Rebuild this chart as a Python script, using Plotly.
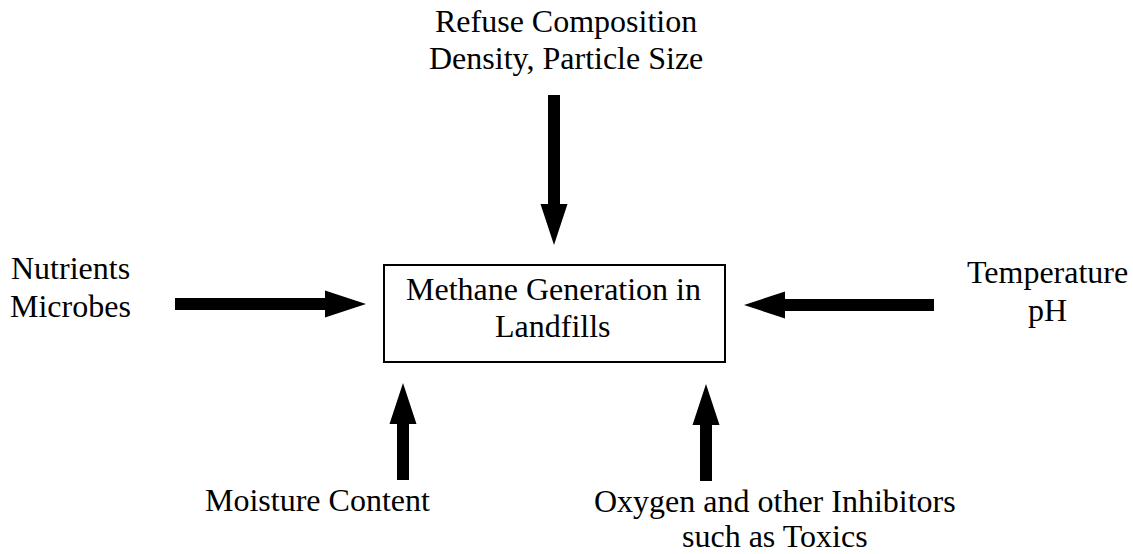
import plotly.graph_objects as go

# Diagram text
center_lines = ["Methane Generation in", "Landfills"]
top_lines = ["Refuse Composition", "Density, Particle Size"]
left_lines = ["Nutrients", "Microbes"]
right_lines = ["Temperature", "pH"]
bottom_left_lines = ["Moisture Content"]
bottom_right_lines = ["Oxygen and other Inhibitors", "such as Toxics"]

W, H = 1133, 554
FONT = dict(family="Liberation Serif, Times New Roman, serif", size=32, color="black")

fig = go.Figure()


def arrow_path(x0, y0, x1, y1, shaft=12, head_w=27, head_len=41):
    # filled block arrow from tail (x0, y0) to tip (x1, y1)
    dx, dy = x1 - x0, y1 - y0
    L = (dx ** 2 + dy ** 2) ** 0.5
    ux, uy = dx / L, dy / L
    px, py = -uy, ux
    bx, by = x1 - ux * head_len, y1 - uy * head_len
    s, h = shaft / 2, head_w / 2
    pts = [
        (x0 + px * s, y0 + py * s),
        (bx + px * s, by + py * s),
        (bx + px * h, by + py * h),
        (x1, y1),
        (bx - px * h, by - py * h),
        (bx - px * s, by - py * s),
        (x0 - px * s, y0 - py * s),
    ]
    return "M " + " L ".join(f"{x:.1f},{y:.1f}" for x, y in pts) + " Z"


arrows = [
    (554, 95, 554, 245),   # top, pointing down
    (175, 304, 366, 304),  # left, pointing right
    (934, 305, 744, 305),  # right, pointing left
    (403, 480, 403, 383),  # bottom left, pointing up
    (706, 481, 706, 384),  # bottom right, pointing up
]

shapes = [dict(type="rect", xref="x", yref="y", x0=384, x1=725, y0=265, y1=362,
               line=dict(color="black", width=2), fillcolor="rgba(0,0,0,0)")]
for a in arrows:
    shapes.append(dict(type="path", xref="x", yref="y", path=arrow_path(*a),
                       fillcolor="black", line=dict(color="black", width=0)))

# (lines, center x, first line y, line spacing)
text_blocks = [
    (center_lines, 553, 289, 37),
    (top_lines, 566, 21, 37),
    (left_lines, 70, 268, 38),
    (right_lines, 1047, 272, 38),
    (bottom_left_lines, 317, 500, 37),
    (bottom_right_lines, 775, 501, 35),
]

annotations = []
for lines, cx, y0, dy in text_blocks:
    for i, t in enumerate(lines):
        annotations.append(dict(x=cx, y=y0 + i * dy, xref="x", yref="y", text=t,
                                showarrow=False, xanchor="center", yanchor="middle",
                                font=FONT))

fig.update_layout(
    width=W, height=H,
    margin=dict(l=0, r=0, t=0, b=0),
    paper_bgcolor="white", plot_bgcolor="white",
    xaxis=dict(range=[0, W], visible=False, fixedrange=True),
    yaxis=dict(range=[H, 0], visible=False, fixedrange=True),
    shapes=shapes,
    annotations=annotations,
    showlegend=False,
)

# remove the default page margin so the figure fills the window
fig.write_html("out.html", config={"displayModeBar": False},
               post_script="document.body.style.margin='0';document.body.style.overflow='hidden';")
